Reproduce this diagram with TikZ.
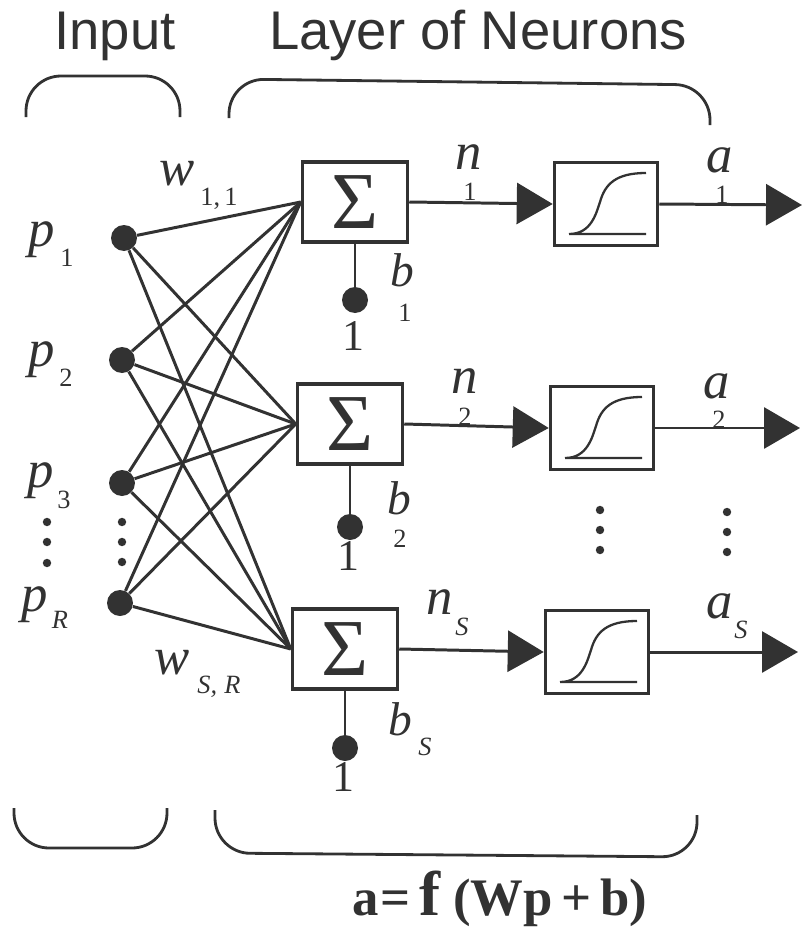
\documentclass[tikz,border=0pt]{standalone}
\usepackage{fontspec}
\setmainfont{Liberation Serif}
\setsansfont{Liberation Sans}
\usetikzlibrary{arrows.meta}
\definecolor{ink}{RGB}{50,50,50}
\newcommand{\fs}[1]{\fontsize{#1}{#1}\selectfont}

\begin{document}
\begin{tikzpicture}[x=0.02cm,y=-0.02cm,
every node/.style={inner sep=0pt,text=ink},
head/.style={font=\sffamily\fs{31}},
sumbox/.style={draw=ink,line width=2pt,minimum width=2.1cm,minimum height=1.6cm,font=\fs{46}},
sigbox/.style={draw=ink,line width=2pt,minimum width=2.06cm,minimum height=1.66cm,
  path picture={\draw[ink,line width=1.3pt]
    ([shift={(-37,30)}]path picture bounding box.center) -- ++(77,0)
    ([shift={(-37,30)}]path picture bounding box.center)
    .. controls ++(22,0) and ++(-4,12) .. ++(31,-32)
    .. controls ++(5,-18) and ++(-30,0) .. ++(46,-29);}},
dot/.style={circle,fill=ink,minimum size=0.52cm},
var/.style={font=\fs{30}\itshape},
bvar/.style={font=\fs{27}\itshape},
sub/.style={font=\fs{15}},
subit/.style={font=\fs{15}\itshape},
one/.style={font=\fs{25}},
wire/.style={draw=ink,line width=1.7pt},
arr/.style={wire,-{Triangle[length=0.72cm,width=0.82cm]}},
brace/.style={draw=ink,line width=1.6pt,rounded corners=0.7cm}]
\useasboundingbox (0,0) rectangle (803,933);
% headings and braces
\node[head,anchor=base] (inhead) at (115,50) {Input};
\node[head,anchor=base] (layhead) at (478,50) {Layer of Neurons};
\draw[brace] (26,117) -- (26,76) -- (180,76) -- (180,117);
\draw[brace] (229,118) -- (229,79) -- (710,85) -- (710,125);
\draw[brace] (14,808) -- (14,848) -- (167,848) -- (167,808);
\draw[brace] (215,810) -- (215,853) -- (697,857) -- (697,815);
% inputs
\node[dot] (in1) at (124,238) {};
\node[dot] (in2) at (122,360) {};
\node[dot] (in3) at (122,483) {};
\node[dot] (inR) at (120,603) {};
\node[var] (p1) at (42,240) {p};
\node[sub] (p1s) at (67,258) {1};
\node[var] (p2) at (42,360) {p};
\node[sub] (p2s) at (66,378) {2};
\node[var] (p3) at (41,481) {p};
\node[sub] (p3s) at (64,500) {3};
\node[var] (pR) at (35,605) {p};
\node[subit] (pRs) at (60,620) {R};
\fill[ink] (47,522) circle (2.4pt) (47,542) circle (2.4pt) (47,563) circle (2.4pt);
\fill[ink] (122,522) circle (2.4pt) (122,542) circle (2.4pt) (122,562) circle (2.4pt);
% summing junctions
\node[sumbox] (sum1) at (355,202) {Σ};
\node[sumbox] (sum2) at (350,424) {Σ};
\node[sumbox] (sum3) at (345,649) {Σ};
% weights
\draw[wire] (in1) -- (sum1.west); \draw[wire] (in1) -- (sum2.west); \draw[wire] (in1) -- (sum3.west);
\draw[wire] (in2) -- (sum1.west); \draw[wire] (in2) -- (sum2.west); \draw[wire] (in2) -- (sum3.west);
\draw[wire] (in3) -- (sum1.west); \draw[wire] (in3) -- (sum2.west); \draw[wire] (in3) -- (sum3.west);
\draw[wire] (inR) -- (sum1.west); \draw[wire] (inR) -- (sum2.west); \draw[wire] (inR) -- (sum3.west);
\node[var] (w11) at (177,174) {w};
\node[sub] (w11s) at (219,199) {1,\,1};
\node[var] (wSR) at (172,663) {w};
\node[subit] (wSRs) at (219,687) {S,\;R};
% biases
\node[dot] (bd1) at (355,300) {};
\node[dot] (bd2) at (350,527) {};
\node[dot] (bd3) at (345,748) {};
\draw[wire] (sum1) -- (bd1);
\draw[wire] (sum2) -- (bd2);
\draw[wire] (sum3) -- (bd3);
\node[one] (one1) at (353,336) {1};
\node[one] (one2) at (348,556) {1};
\node[one] (one3) at (343,777) {1};
\node[bvar] (b1) at (402,270) {b};
\node[sub] (b1s) at (405,313) {1};
\node[bvar] (b2) at (399,498) {b};
\node[sub] (b2s) at (400,539) {2};
\node[bvar] (bS) at (400,719) {b};
\node[subit] (bSs) at (425,747) {S};
% transfer functions
\node[sigbox] (sig1) at (606,204) {};
\node[sigbox] (sig2) at (602,428) {};
\node[sigbox] (sig3) at (597,652) {};
\draw[arr] (sum1.east) -- (sig1.west);
\draw[arr] (sum2.east) -- (sig2.west);
\draw[arr] (sum3.east) -- (sig3.west);
\coordinate (out1) at (802,205);
\coordinate (out2) at (800,428);
\coordinate (out3) at (798,652);
\draw[arr] (sig1.east) -- (out1);
\draw[arr] (sig2.east) -- (out2);
\draw[arr] (sig3.east) -- (out3);
\node[var] (n1) at (469,157) {n};
\node[sub] (n1s) at (470,192) {1};
\node[var] (n2) at (465,381) {n};
\node[sub] (n2s) at (465,417) {2};
\node[var] (nS) at (440,602) {n};
\node[subit] (nSs) at (462,627) {S};
\node[var] (a1) at (720,160) {a};
\node[sub] (a1s) at (722,195) {1};
\node[var] (a2) at (717,386) {a};
\node[sub] (a2s) at (719,420) {2};
\node[var] (aS) at (720,606) {a};
\node[subit] (aSs) at (741,630) {S};
\fill[ink] (600,510) circle (2.4pt) (600,530) circle (2.4pt) (600,550) circle (2.4pt);
\fill[ink] (727,512) circle (2.4pt) (727,532) circle (2.4pt) (727,552) circle (2.4pt);
% layer equation
\node[anchor=base,font=\fs{30}\bfseries] (eqn) at (500,915)
  {a\kern1pt=\kern5pt{\fs{36}f}\kern7pt(Wp\kern5pt+\kern5pt b)};
\end{tikzpicture}
\end{document}
